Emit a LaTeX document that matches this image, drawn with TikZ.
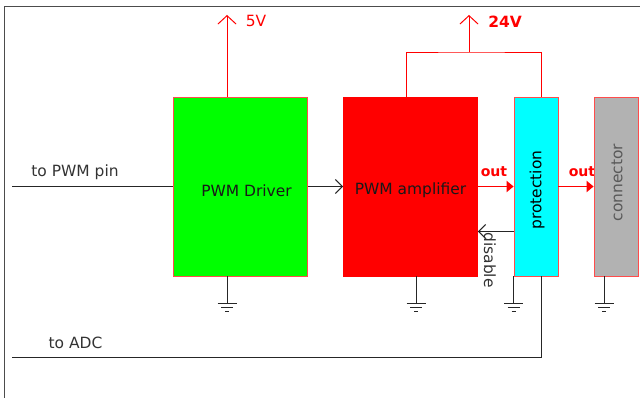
\documentclass[tikz,border=0pt]{standalone}
\usepackage{fontspec}
\setmainfont{DejaVu Sans}
\usetikzlibrary{arrows.meta,positioning,calc}

\definecolor{protcyan}{RGB}{0,255,255}
\definecolor{drvgreen}{RGB}{0,255,0}

\tikzset{
  blk/.style={draw=red!70!white,line width=0.6pt,minimum width=#1,
    minimum height=4.475cm,inner sep=0pt},
  wire/.style={draw=black!85,line width=0.7pt},
  supply/.style={draw=red,line width=0.7pt},
  outarr/.style={draw=red,line width=1.1pt,-{Triangle[length=5pt,width=8pt]}},
  lbl/.style={text=black!80},
  outlbl/.style={text=red,font=\fontsize{10}{12}\selectfont\bfseries},
  gnd/.pic={
    \draw[wire] (0,0)--(0,27) (-9.5,27)--(9.5,27) (-6,31)--(6,31) (-2,35)--(2,35);
  }
}

\begin{document}
\begin{tikzpicture}[x=0.025cm,y=-0.025cm,font=\fontsize{11}{13}\selectfont]
  \useasboundingbox (0,0) rectangle (640,398);
  % frame
  \draw[black!70,line width=0.7pt] (4,398)--(4,6)--(640,6);

  % blocks
  \node[blk=3.35cm,fill=drvgreen] (drv) at (240.5,186.5) {};
  \node[blk=3.35cm,fill=red,draw=red] (amp) at (410.5,186.5) {};
  \node[blk=1.1cm,fill=protcyan] (prot) at (536,186.5) {};
  \node[lbl,text=black!90] (drvtxt) at ([shift={(6,4)}]drv.center) {PWM Driver};
  \node[lbl,text=black!90] (amptxt) at ([shift={(0,4)}]amp.center) {PWM amplifier};
  \node[rotate=90] (prottxt) at ([shift={(1,3.5)}]prot.center) {protection};

  % outputs
  \node[outlbl] (out1) at (494,172) {out};
  \node[outlbl] (out2) at (582,172) {out};
  \node[blk=1.1cm,fill=gray!60] (conn) at (616,186.5) {};
  \node[rotate=90,text=black!65] (conntxt) at ([shift={(1,-4)}]conn.center) {connector};
  \draw[outarr] (amp) -- (prot);
  \draw[outarr] (prot) -- (conn);

  % inputs
  \coordinate (pwmpin) at (12,186.5);
  \draw[wire] (pwmpin) -- (drv.west);
  \node[lbl] (pwmlbl) at (75,172) {to PWM pin};
  \draw[wire,-{Straight Barb[length=5pt,width=10pt]}] (drv) -- (amp);

  % disable feedback
  \coordinate (dis) at ($(prot.west)+(0,45)$);
  \draw[wire,-{Straight Barb[length=5pt,width=10pt]}] (dis) -- (dis -| amp.east);
  \node[lbl,rotate=-90] (distxt) at (490,260) {disable};

  % supplies
  \coordinate (v5) at (227,15);
  \draw[supply,-{Straight Barb[length=6pt,width=13pt]}] (227,0 |- drv.north) -- (v5);
  \node[text=red] (v5lbl) at (256,21) {5V};
  \coordinate (v24) at (469,15);
  \coordinate (rail) at (469,52);
  \draw[supply] (406,0 |- amp.north) |- (rail) -| (541,0 |- prot.north);
  \draw[supply,-{Straight Barb[length=6pt,width=13pt]}] (rail) -- (v24);
  \node[text=red,font=\fontsize{11}{13}\selectfont\bfseries] (v24lbl) at (505,22) {24V};

  % ADC sense
  \coordinate (adc) at (12,357);
  \draw[wire] (541,0 |- prot.south) |- (adc);
  \node[lbl] (adclbl) at (75.5,343) {to ADC};

  % grounds
  \pic at (227,0 |- drv.south) {gnd};
  \pic at (416,0 |- amp.south) {gnd};
  \pic at (prot.south west) {gnd};
  \pic at (604,0 |- conn.south) {gnd};
\end{tikzpicture}
\end{document}
